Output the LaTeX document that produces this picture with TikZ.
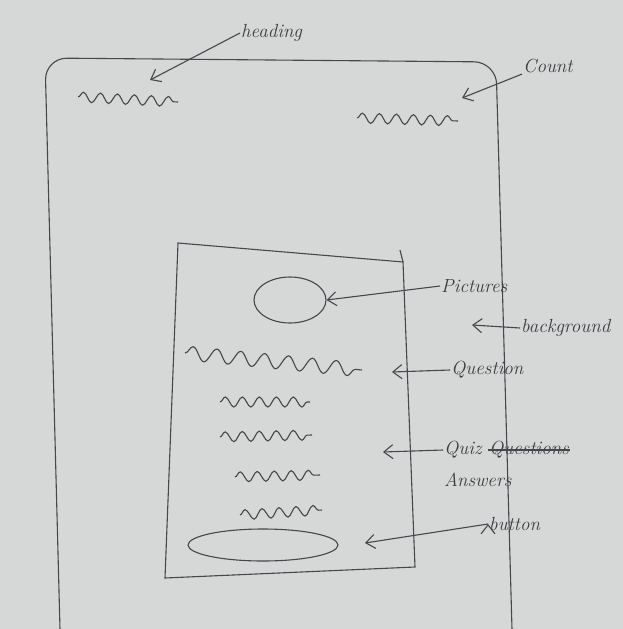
\documentclass[tikz,border=0pt]{standalone}
\usepackage{tikz}
\usetikzlibrary{arrows.meta,shapes.geometric,decorations.pathmorphing}
\definecolor{paper}{RGB}{214,216,216}
\definecolor{pencil}{RGB}{70,70,76}
\tikzset{
	lbl/.style={text=pencil!85!black, font=\fontsize{19}{21}\selectfont\itshape, inner sep=1pt, anchor=west},
	sketch/.style={draw=pencil, line width=1.1pt},
	scribble/.style={sketch, decorate, decoration={snake, amplitude=5pt, segment length=17pt}},
	pointer/.style={sketch, -{Straight Barb[length=9pt,width=14pt]}}
}

\begin{document}
\begin{tikzpicture}[x=1pt,y=-1pt]
			\useasboundingbox[fill=paper] (0,0) rectangle (623,629);
			\draw[sketch, rounded corners=22pt] (60,629) -- (45,58) -- (496,62) -- (512,629);
			\draw[sketch] (178,243) -- (403,262) -- (415,567) -- (165,578) -- cycle;
			\draw[sketch] (400,250) -- (403,262);
			\draw[scribble] (78,97) -- (178,102);
			\draw[scribble] (357,118) -- (458,121);
			\draw[scribble, decoration={snake, amplitude=7pt, segment length=24pt}] (185,353) -- (362,370);
			\draw[scribble] (220,402) -- (310,402);
			\draw[scribble] (220,437) -- (312,435);
			\draw[scribble] (235,477) -- (320,475);
			\draw[scribble] (240,515) -- (322,510);
			\node[sketch, ellipse, minimum width=72pt, minimum height=46pt] (pic) at (290,300) {};
			\node[sketch, ellipse, minimum width=150pt, minimum height=32pt] (btn) at (263,545) {};
			\coordinate (hd) at (150,80);
			\coordinate (cnt) at (462,98);
			\coordinate (bg) at (472,325);
			\coordinate (qn) at (392,372);
			\coordinate (ans) at (383,452);
			\coordinate (bt) at (365,543);
			\node[lbl] (heading) at (240,33) {heading};
			\node[lbl] (count) at (522,66) {Count};
			\node[lbl] (pictures) at (440,286) {Pictures};
			\node[lbl] (backgr) at (520,328) {background};
			\node[lbl] (question) at (450,370) {Question};
			\node[lbl] (quiz) at (443,450) {Quiz};
			\node[lbl, xshift=5pt] (struck) at (quiz.east) {Questions};
			\node[lbl] (answers) at (443,480) {Answers};
			\node[lbl] (button) at (488,524) {button};
			\draw[sketch] (struck.west) -- (struck.east);
			\path[pointer]
			(heading.west) edge (hd)
			(count.south west) edge (cnt)
			(pictures.west) edge (pic.east)
			(backgr.west) edge (bg)
			(question.west) edge (qn)
			(quiz.west) edge (ans)
			(button.west) edge (bt);
		\end{tikzpicture}
\end{document}
